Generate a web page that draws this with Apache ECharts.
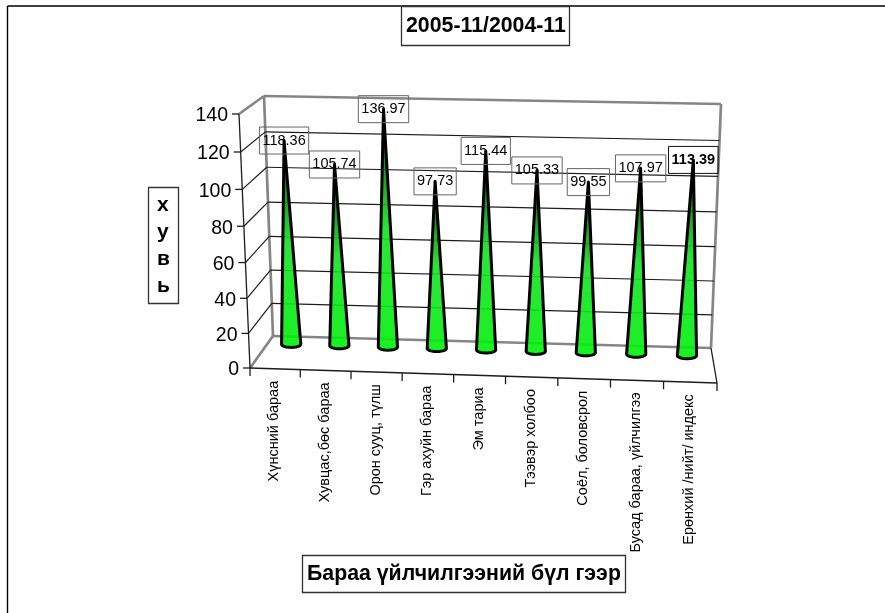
<!DOCTYPE html>
<html><head><meta charset="utf-8">
<style>html,body{margin:0;padding:0;background:#fff}#c{width:885px;height:613px}</style>
<script src="https://cdn.jsdelivr.net/npm/echarts@6/dist/echarts.min.js"></script>
</head><body><div id="c"></div>
<script>
const categories = ['Хүнсний бараа','Хувцас,бөс бараа','Орон сууц, түлш','Гэр ахуйн бараа','Эм тариа','Тээвэр холбоо','Соёл, боловсрол','Бусад бараа, үйлчилгээ','Ерөнхий /нийт/ индекс'];
const values = [118.36,105.74,136.97,97.73,115.44,105.33,99.55,107.97,113.39];
const valueLabels = ['118.36','105.74','136.97','97.73','115.44','105.33','99.55','107.97','113.39'];
const yTicks = [0,20,40,60,80,100,120,140];
const chartTitle = '2005-11/2004-11';
const yTitle = 'х\nу\nв\nь';
const xTitle = 'Бараа үйлчилгээний бүл гээр';

const FONT = '"Liberation Sans", Arial, sans-serif';
const GRID = {left:250, top:114, width:467, height:254};
// corners of the drawn 3D box: front (d=0) and back (d=1), bottom and top
const box = {
  fb0:[250,368], fb1:[717,383], ft0:[239,114], ft1:[723,136],
  bb0:[273,336], bb1:[711,348], bt0:[264,96],  bt1:[721,104]
};
const CONE_DEPTH = 0.75, GRAY = '#858585', DARK = '#1c1c1c';
const mix = (a,b,t)=>[a[0]+(b[0]-a[0])*t, a[1]+(b[1]-a[1])*t];
function project(u,v,d){
  const U = u - 0.034*u*(1-u), V = v - 0.055*v*(1-v);
  const bottom = mix(mix(box.fb0,box.fb1,U), mix(box.bb0,box.bb1,U), d);
  const top = mix(mix(box.ft0,box.ft1,U), mix(box.bt0,box.bt1,U), d);
  return mix(bottom,top,V);
}
const toUV = pt => [(pt[0]-GRID.left)/GRID.width, (GRID.top+GRID.height-pt[1])/GRID.height];
const line = (a,b,stroke,w)=>({type:'line',shape:{x1:a[0],y1:a[1],x2:b[0],y2:b[1]},style:{stroke,lineWidth:w,fill:null}});

function renderWalls(){
  const w = 2.7;
  return {type:'group',children:[
    line(box.bb0,box.bb1,GRAY,w), line(box.bb0,box.bt0,GRAY,w), line(box.bt0,box.bt1,GRAY,w),
    line(box.bt1,box.bb1,GRAY,w), line(box.ft0,box.bt0,GRAY,w), line(box.fb0,box.bb0,GRAY,w),
    line(box.ft0,box.fb0,DARK,1.3), line(box.fb0,box.fb1,DARK,1.3), line(box.fb1,box.bb1,DARK,1.3)
  ]};
}
function renderYTick(p,api){
  const val = api.value(0), uv = toUV(api.coord([0,val])), v = uv[1];
  const a = project(0,v,0), b = project(0,v,1), c = project(1,v,1);
  const kids = [line(a,[a[0]-7,a[1]],DARK,1.3),
    {type:'text',style:{text:String(val),x:a[0]-11,y:a[1]+2,align:'right',verticalAlign:'middle',font:'19.5px '+FONT,fill:'#000'}}];
  if(val>0 && val<140){ kids.push(line(a,b,DARK,1.2), line(b,c,DARK,1.2)); }
  return {type:'group',children:kids};
}
function renderXTick(p,api){
  const i = api.value(0), pt = api.coord([i,0]), band = api.size([1,0])[0];
  const u = toUV(pt)[0], hw = band/2/GRID.width;
  const kids = [];
  const r = project(u+hw,0,0);
  kids.push(line(r,[r[0],r[1]+8],DARK,1.3));
  if(i===0){ const l = project(u-hw,0,0); kids.push(line(l,[l[0],l[1]+8],DARK,1.3)); }
  const m = project(u,0,0);
  kids.push({type:'text',x:m[0]-1,y:m[1]+12,rotation:Math.PI/2,
    style:{text:categories[i],x:0,y:0,align:'right',verticalAlign:'middle',font:'14.5px '+FONT,fill:'#000'}});
  return {type:'group',children:kids};
}
function renderCone(p,api){
  const i = api.value(0), val = api.value(1);
  const u = toUV(api.coord([i,0]))[0], v = toUV(api.coord([i,val]))[1];
  const base = project(u,0,CONE_DEPTH), tip = project(u,v,CONE_DEPTH);
  const rx = 9.6, ry = 3.2, points = [tip];
  for(let k=0;k<=24;k++){ const t = Math.PI*k/24; points.push([base[0]+rx*Math.cos(t), base[1]-0.5+ry*Math.sin(t)]); }
  return {type:'polygon',shape:{points},style:{
    stroke:'#000',lineWidth:3,lineJoin:'round',
    fill:{type:'linear',x:0,y:0,x2:0,y2:1,colorStops:[
      {offset:0,color:'rgba(0,50,0,0.95)'},{offset:0.25,color:'rgba(5,140,15,0.92)'},
      {offset:0.5,color:'rgba(20,225,35,0.9)'},{offset:1,color:'rgba(0,240,10,0.9)'}]}
  }};
}
function renderLabel(p,api){
  const i = api.value(0), val = api.value(1);
  const u = toUV(api.coord([i,0]))[0], v = toUV(api.coord([i,val]))[1];
  const tip = project(u,v,CONE_DEPTH), last = i===values.length-1;
  return {type:'text',style:{text:valueLabels[i],x:tip[0],y:tip[1],align:'center',verticalAlign:'middle',
    font:(last?'bold ':'')+'14.5px '+FONT,fill:'#000',padding:[6,3,6,3],
    borderColor:last?'#111':'#666',borderWidth:1}};
}
const coneData = values.map((v,i)=>[i,v]);
const common = {type:'custom',coordinateSystem:'cartesian2d',clip:false,silent:true,animation:false};
const boxTitle = (text,left,top,size,padding,lineHeight)=>({text,left,top,padding,
  borderColor:'#333',borderWidth:1.3,backgroundColor:'#fff',
  textStyle:{fontFamily:FONT,fontWeight:'bold',fontSize:size,color:'#000',lineHeight:lineHeight||size+4,align:'center'}});
const chart = echarts.init(document.getElementById('c'),null,{renderer:'canvas'});
chart.setOption({
  animation:false,backgroundColor:'#fff',
  title:[boxTitle(chartTitle,401,6,21.3,[7,4,7,5]),
         boxTitle(yTitle,148,187,21,[5,9,4,9],27),
         boxTitle(xTitle,302,555,21.3,[6,5,6,5])],
  grid:GRID,
  xAxis:{type:'category',data:categories,show:false},
  yAxis:{type:'value',min:0,max:140,interval:20,show:false},
  graphic:[{type:'group',silent:true,children:[
    {type:'line',shape:{x1:7.5,y1:6,x2:885,y2:6},style:{stroke:'#000',lineWidth:1.4}},
    {type:'line',shape:{x1:7.5,y1:6,x2:7.5,y2:613},style:{stroke:'#000',lineWidth:1.4}}]}],
  series:[
    Object.assign({},common,{name:'walls',data:[[0,0]],renderItem:renderWalls,z:1}),
    Object.assign({},common,{name:'yTicks',data:yTicks.map(t=>[t]),encode:{y:0},renderItem:renderYTick,z:2}),
    Object.assign({},common,{name:'xTicks',data:categories.map((c,i)=>[i]),encode:{x:0},renderItem:renderXTick,z:2}),
    Object.assign({},common,{name:'cones',data:coneData,encode:{x:0,y:1},renderItem:renderCone,z:3}),
    Object.assign({},common,{name:'labels',data:coneData,encode:{x:0,y:1},renderItem:renderLabel,z:4})
  ]
});
</script></body></html>
